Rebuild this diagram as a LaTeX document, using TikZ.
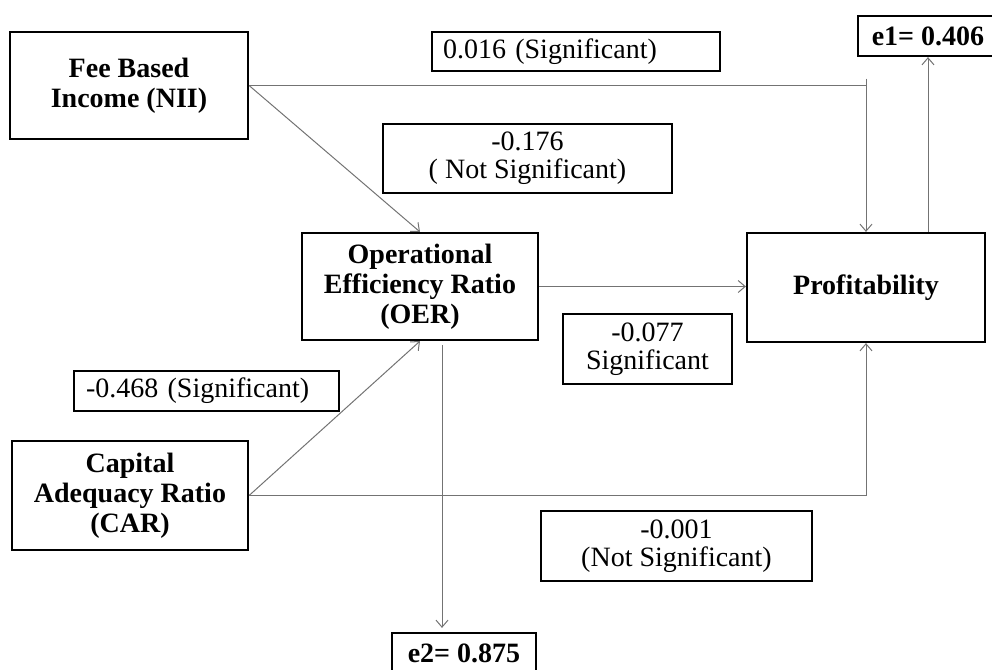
\documentclass[tikz,border=0pt]{standalone}
\usepackage{fontspec}
\setmainfont{Liberation Serif}
\usetikzlibrary{arrows.meta,calc}

\tikzset{
  var/.style={draw, line width=1.1pt, align=center, inner sep=2pt,
    font=\bfseries\fontsize{14}{15}\selectfont},
  est/.style={draw, line width=1.1pt, align=center, inner sep=2pt,
    font=\fontsize{14}{14}\selectfont},
  conn/.style={draw=black!55, line width=0.5pt},
  arr/.style={conn, -{Straight Barb[length=3.5pt,width=6pt]}},
}

\begin{document}
\begin{tikzpicture}[x=0.5pt,y=-0.5pt]
  \useasboundingbox (0,0) rectangle (992,670);
  % variables
  \node[var, minimum width=119pt, minimum height=53.5pt] (nii) at (129,85.5) {Fee Based\\Income (NII)};
  \node[var, minimum width=118pt, minimum height=53.5pt] (oer) at (420,286.5) {Operational\\Efficiency Ratio\\(OER)};
  \node[var, minimum width=118pt, minimum height=54.5pt] (car) at (130,495.5) {Capital\\Adequacy Ratio\\(CAR)};
  \node[var, minimum width=119pt, minimum height=54.5pt] (prof) at (866,287.5) {Profitability};
  % error terms
  \node[var, minimum width=70pt, minimum height=20pt] (e1) at (928,36) {e1= 0.406};
  \node[var, minimum width=72pt, minimum height=20pt] (e2) at (464,653) {e2= 0.875};
  % path estimates
  \node[est, align=left, inner xsep=5.5pt, text width=133pt, minimum height=19.5pt] (l016) at (576,51.5) {0.016 (Significant)};
  \node[est, minimum width=144.5pt, minimum height=34.5pt] (l176) at (527.5,158.5) {-0.176\\( Not Significant)};
  \node[est, minimum width=84.5pt, minimum height=35pt] (l077) at (647.5,349) {-0.077\\Significant};
  \node[est, align=left, inner xsep=6pt, text width=120.5pt, minimum height=20pt] (l468) at (206.5,391) {-0.468 (Significant)};
  \node[est, minimum width=135.5pt, minimum height=35pt] (l001) at (676.5,546) {-0.001\\(Not Significant)};
  % connectors
  \draw[conn] (nii.east) -- (nii.east -| prof.north);
  \draw[arr] ($(nii.east -| prof.north)+(0,-7)$) -- (prof.north);
  \draw[arr] (nii.east) -- (oer.north);
  \draw[arr] (car.east) -- (oer.south);
  \draw[arr] (car.east) -| (prof.south);
  \draw[arr] (oer.east) -- (oer.east -| prof.west);
  \coordinate (ed) at (442,345);
  \draw[arr, shorten >=2pt] (ed) -- (ed |- e2.north);
  \draw[arr] (prof.north -| e1.south) -- (e1.south);
\end{tikzpicture}
\end{document}
